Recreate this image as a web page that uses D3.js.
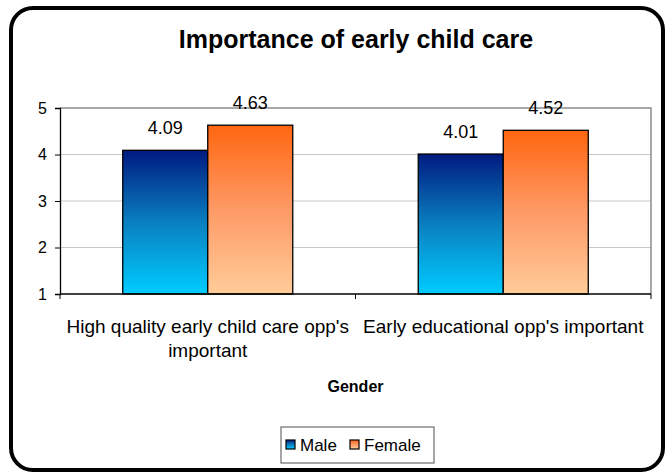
<!DOCTYPE html>
<html>
<head>
<meta charset="utf-8">
<script src="https://cdn.jsdelivr.net/npm/d3@7"></script>
<style>
  body { margin: 0; background: #fff; }
  svg { display: block; font-family: "Liberation Sans", Arial, sans-serif; }
</style>
</head>
<body>
<div id="chart"></div>
<script>
// chart data
var categories = ["High quality early child care opp's important", "Early educational opp's important"];
var seriesNames = ["Male", "Female"];
var maleValues = [4.09, 4.01];
var femaleValues = [4.63, 4.52];
var yTicks = [1, 2, 3, 4, 5];

var svgWidth = 665;
var svgHeight = 474;

var plot = { left: 60, right: 651, top: 108, bottom: 294 };

var svg = d3.select("#chart")
  .append("svg")
  .attr("width", svgWidth)
  .attr("height", svgHeight);

// gradients for the bars
var defs = svg.append("defs");
var grads = [
  { id: "gMale", top: "#001a80", mid: "#0a7fbf", bottom: "#00ccff" },
  { id: "gFemale", top: "#ff6610", mid: "#fe9a66", bottom: "#ffcc99" }
];
grads.forEach(function(g) {
  var lg = defs.append("linearGradient")
    .attr("id", g.id)
    .attr("x1", 0).attr("y1", 0).attr("x2", 0).attr("y2", 1);
  lg.append("stop").attr("offset", "0%").attr("stop-color", g.top);
  lg.append("stop").attr("offset", "50%").attr("stop-color", g.mid);
  lg.append("stop").attr("offset", "100%").attr("stop-color", g.bottom);
});

// outer rounded frame
svg.append("rect")
  .attr("x", 11).attr("y", 8)
  .attr("width", 652).attr("height", 462)
  .attr("rx", 22).attr("ry", 22)
  .attr("fill", "#fff")
  .attr("stroke", "#000")
  .attr("stroke-width", 4);

// title
svg.append("text")
  .attr("x", 356).attr("y", 48)
  .attr("text-anchor", "middle")
  .style("font-size", "25px")
  .style("font-weight", "bold")
  .text("Importance of early child care");

// scales
var x0 = d3.scaleBand()
  .domain(categories)
  .range([plot.left, plot.right])
  .paddingInner(0).paddingOuter(0);

var x1 = d3.scaleBand()
  .domain(seriesNames)
  .range([0, x0.bandwidth()])
  .paddingInner(0).paddingOuter(0.738);

var y = d3.scaleLinear()
  .domain([1, 5])
  .range([plot.bottom, plot.top]);

// gridlines
svg.append("g")
  .selectAll("line")
  .data(yTicks.filter(function(t) { return t > 1 && t < 5; }))
  .enter()
  .append("line")
  .attr("x1", plot.left).attr("x2", plot.right)
  .attr("y1", function(t) { return y(t); })
  .attr("y2", function(t) { return y(t); })
  .attr("stroke", "#c8c8c8")
  .attr("stroke-width", 1);

// plot area border (top + right)
svg.append("path")
  .attr("d", "M" + plot.left + "," + y(5) + "H" + plot.right + "V" + plot.bottom)
  .attr("fill", "none")
  .attr("stroke", "#8c8c8c")
  .attr("stroke-width", 1.5);

// bars
var table = categories.map(function(c, i) {
  return { cat: c, vals: [
    { s: "Male", v: maleValues[i] },
    { s: "Female", v: femaleValues[i] }
  ] };
});

var groups = svg.append("g")
  .selectAll("g")
  .data(table)
  .enter()
  .append("g")
  .attr("transform", function(d) { return "translate(" + x0(d.cat) + ",0)"; });

groups.selectAll("rect")
  .data(function(d) { return d.vals; })
  .enter()
  .append("rect")
  .attr("x", function(d) { return x1(d.s); })
  .attr("y", function(d) { return y(d.v); })
  .attr("width", x1.bandwidth())
  .attr("height", function(d) { return y(1) - y(d.v); })
  .attr("fill", function(d) { return d.s === "Male" ? "url(#gMale)" : "url(#gFemale)"; })
  .attr("stroke", "#000")
  .attr("stroke-width", 1.3);

groups.selectAll("text")
  .data(function(d) { return d.vals; })
  .enter()
  .append("text")
  .attr("x", function(d) { return x1(d.s) + x1.bandwidth() / 2; })
  .attr("y", function(d) { return y(d.v) - 16; })
  .attr("text-anchor", "middle")
  .style("font-size", "18px")
  .text(function(d) { return d.v.toFixed(2); });

// y axis
var leftAxis = d3.axisLeft(y).tickValues(yTicks).tickSize(5).tickPadding(8)
  .tickFormat(d3.format("d"));
var gy = svg.append("g")
  .attr("transform", "translate(" + plot.left + ",0)")
  .call(leftAxis);
gy.select(".domain").attr("stroke", "#000").attr("stroke-width", 1.3);
gy.selectAll(".tick line").attr("stroke", "#000");
gy.selectAll(".tick text").style("font-size", "16px").attr("fill", "#000")
  .attr("font-family", null);

// x axis line with ticks between categories
var gx = svg.append("g");
gx.append("line")
  .attr("x1", plot.left).attr("x2", plot.right)
  .attr("y1", plot.bottom).attr("y2", plot.bottom)
  .attr("stroke", "#000").attr("stroke-width", 1.3);
var tickXs = categories.map(function(c) { return x0(c); }).concat([x0(categories[categories.length - 1]) + x0.bandwidth()]);
gx.selectAll("line.t")
  .data(tickXs)
  .enter()
  .append("line")
  .attr("class", "t")
  .attr("x1", function(d) { return d; }).attr("x2", function(d) { return d; })
  .attr("y1", plot.bottom).attr("y2", plot.bottom + 5)
  .attr("stroke", "#000");

// category labels (first wraps on two lines)
var catLines = [["High quality early child care opp's", "important"], ["Early educational opp's important"]];
var catLabels = svg.append("g")
  .selectAll("text")
  .data(categories)
  .enter()
  .append("text")
  .attr("text-anchor", "middle")
  .style("font-size", "19px");
catLabels.each(function(c, i) {
  d3.select(this).selectAll("tspan")
    .data(catLines[i])
    .enter()
    .append("tspan")
    .attr("x", x0(c) + x0.bandwidth() / 2)
    .attr("y", function(l, j) { return 333 + j * 24; })
    .text(function(l) { return l; });
});

// axis title
svg.append("text")
  .attr("x", x0.bandwidth() + plot.left)
  .attr("y", 392)
  .attr("text-anchor", "middle")
  .style("font-size", "16px")
  .style("font-weight", "bold")
  .text("Gender");

// legend
var legend = svg.append("g");
legend.append("rect")
  .attr("x", 281).attr("y", 427)
  .attr("width", 153).attr("height", 36)
  .attr("fill", "#fff")
  .attr("stroke", "#777")
  .attr("stroke-width", 1.3);
var legX = [286, 350];
var legItems = legend.selectAll("g")
  .data(seriesNames)
  .enter()
  .append("g")
  .attr("transform", function(d, i) { return "translate(" + legX[i] + ",0)"; });
legItems.append("rect")
  .attr("x", 0).attr("y", 440)
  .attr("width", 9).attr("height", 9)
  .attr("fill", function(d) { return d === "Male" ? "url(#gMale)" : "url(#gFemale)"; })
  .attr("stroke", "#000")
  .attr("stroke-width", 1.2);
legItems.append("text")
  .attr("x", 14).attr("y", 451)
  .style("font-size", "17px")
  .text(function(d) { return d; });
</script>
</body>
</html>
